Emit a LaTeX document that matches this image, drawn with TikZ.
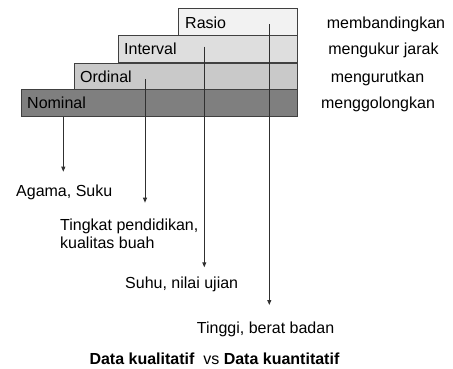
\documentclass[tikz,border=0pt]{standalone}
\usepackage{fontspec}
\setmainfont{Liberation Sans}
\usetikzlibrary{arrows.meta}
\definecolor{cNom}{HTML}{7F7F7F}
\definecolor{cOrd}{HTML}{C9C9C9}
\definecolor{cInt}{HTML}{DEDEDE}
\definecolor{cRas}{HTML}{F2F2F2}
\definecolor{cEdge}{HTML}{404040}
\definecolor{cLine}{HTML}{303030}
\tikzset{
  levelbox/.style={draw=cEdge, line width=1.1pt, anchor=north west, inner sep=0pt, minimum height=26.7pt},
  txt/.style={inner sep=0pt, font=\fontsize{16}{18.3}\selectfont, text=black},
  ptr/.style={draw=cLine, line width=0.9pt, -{Triangle[width=4pt,length=5pt]}},
}
\begin{document}
\begin{tikzpicture}[x=1pt,y=-1pt]
\useasboundingbox (0,0) rectangle (453,369);
% level boxes
\node[levelbox, fill=cNom, minimum width=276pt] (nominal) at (20.7,89.3) {};
\node[levelbox, fill=cOrd, minimum width=222.7pt] (ordinal) at (74,62.7) {};
\node[levelbox, fill=cInt, minimum width=179pt] (interval) at (117.7,35) {};
\node[levelbox, fill=cRas, minimum width=119pt] (rasio) at (177.7,8.3) {};
% box labels
\node[txt, anchor=base west] (tnom) at (27,108.8) {Nominal};
\node[txt, anchor=base west] (tord) at (80,82.5) {Ordinal};
\node[txt, anchor=base west] (tint) at (124,55) {Interval};
\node[txt, anchor=base west] (tras) at (185,28.3) {Rasio};
% right-hand descriptions
\node[txt, anchor=base] (dras) at (386,28.3) {membandingkan};
\node[txt, anchor=base] (dint) at (383.5,55) {mengukur jarak};
\node[txt, anchor=base] (dord) at (377.5,82.5) {mengurutkan};
\node[txt, anchor=base] (dnom) at (378,108.8) {menggolongkan};
% examples
\node[txt, anchor=base west] (enom) at (16,196) {Agama, Suku};
\node[txt, anchor=north west, align=left] (eord) at (60,218.4) {Tingkat pendidikan,\\kualitas buah};
\node[txt, anchor=base west] (eint) at (125,288.3) {Suhu, nilai ujian};
\node[txt, anchor=base west] (eras) at (196.7,333.3) {Tinggi, berat badan};
% caption
\node[txt, anchor=base west] (cap) at (89.3,364) {\textbf{Data kualitatif}\ \ vs \textbf{Data kuantitatif}};
% connector coordinates
\coordinate (snom) at (63.3,116.7);
\coordinate (sord) at (145,79);
\coordinate (sint) at (204.3,46.7);
\coordinate (sras) at (269.3,24.3);
\coordinate (anom) at (63.3,171.7);
\coordinate (aord) at (145,202.7);
\coordinate (aint) at (204.3,267.3);
\coordinate (aras) at (269.3,305);
\draw[ptr] (snom) -- (anom);
\draw[ptr] (sord) -- (aord);
\draw[ptr] (sint) -- (aint);
\draw[ptr] (sras) -- (aras);
\end{tikzpicture}
\end{document}
